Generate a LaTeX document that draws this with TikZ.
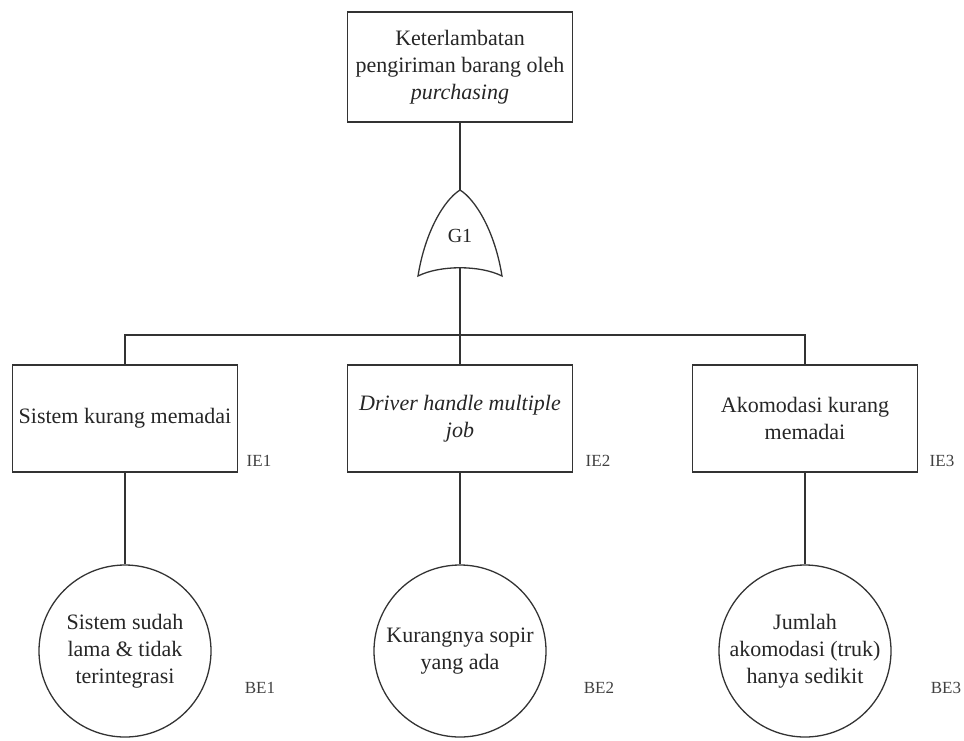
\documentclass[tikz,border=0pt]{standalone}
\usepackage{fontspec}
\setmainfont{Liberation Serif}
\usetikzlibrary{positioning}

\begin{document}
\begin{tikzpicture}[x=1pt, y=-1pt,
  line/.style={draw=black!80, line width=1.3pt},
  event/.style={line, rectangle, minimum width=225pt, minimum height=107pt,
                align=center, inner sep=2pt, text=black!85,
                font=\fontsize{22}{27}\selectfont},
  basic/.style={line, circle, minimum size=172pt, align=center, inner sep=0pt,
                text=black!85, font=\fontsize{22}{27}\selectfont},
  tag/.style={font=\fontsize{17}{20}\selectfont, text=black!75}]
  \useasboundingbox (0,0) rectangle (964,740);

  % Top event
  \node[event, minimum height=110pt] (top) at (460,67)
    {Keterlambatan\\pengiriman barang oleh\\\textit{purchasing}};

  % OR gate
  \coordinate (gtop) at (460,190);
  \coordinate (gbot) at (460,268);
  \draw[line, fill=white] (418,276) .. controls (425,232) and (444,200) .. (gtop)
    .. controls (476,200) and (495,232) .. (502,276)
    .. controls (480,265) and (440,265) .. cycle;
  \node[font=\fontsize{20}{24}\selectfont, text=black!85] (g1) at (460,236) {G1};
  \coordinate (bar) at (460,335);

  % Intermediate events
  \node[event] (ie1) at (125,418.5) {Sistem kurang memadai};
  \node[event] (ie2) at (460,418.5) {\textit{Driver handle multiple}\\\textit{job}};
  \node[event] (ie3) at (805,418.5) {Akomodasi kurang\\memadai};

  % Basic events
  \node[basic] (be1) at (125,651) {Sistem sudah\\lama \& tidak\\terintegrasi};
  \node[basic] (be2) at (460,651) {Kurangnya sopir\\yang ada};
  \node[basic] (be3) at (805,651) {Jumlah\\akomodasi (truk)\\hanya sedikit};

  % Labels
  \foreach \n/\x in {1/259, 2/598, 3/942} {
    \node[tag] (ielbl\n) at (\x,461) {IE\n};
  }
  \foreach \n/\x in {1/260, 2/599, 3/946} {
    \node[tag] (belbl\n) at (\x,688) {BE\n};
  }

  % Connectors
  \draw[line] (top.south) -- (gtop);
  \draw[line] (gbot) -- (bar);
  \draw[line] (ie1.north) |- (bar) -| (ie3.north);
  \draw[line] (bar) -- (ie2.north);
  \foreach \n in {1,2,3} {
    \draw[line] (ie\n.south) -- (be\n.north);
  }
\end{tikzpicture}
\end{document}
